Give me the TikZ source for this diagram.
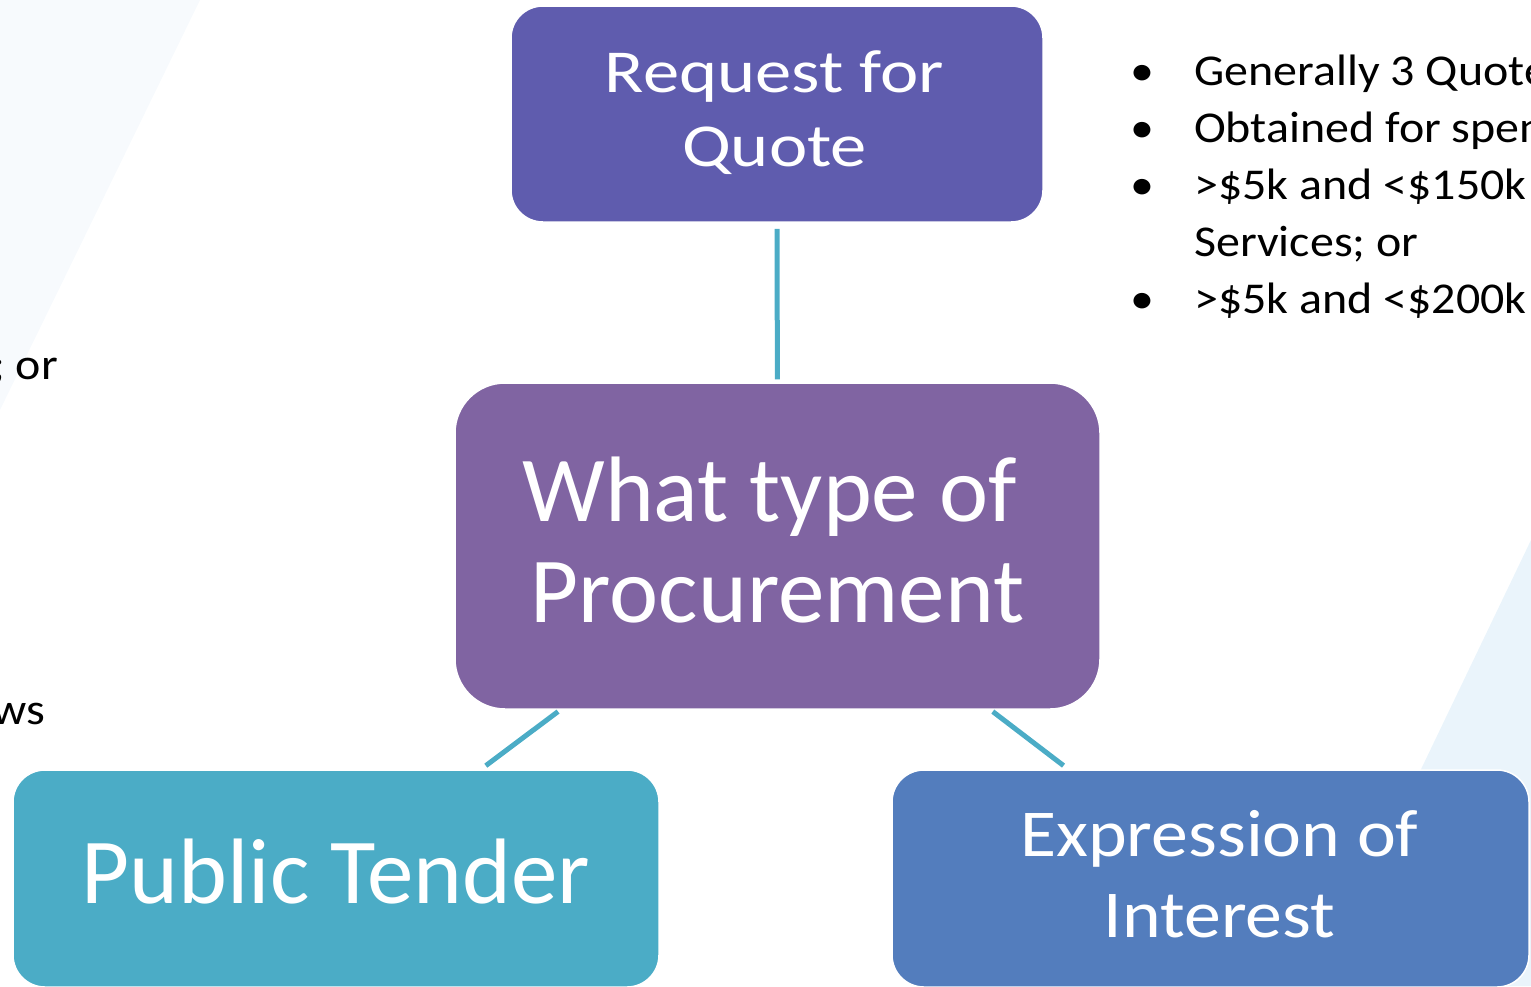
\documentclass[tikz,border=0pt]{standalone}
\usepackage{fontspec}
\setmainfont{Carlito}
\newfontfamily\bodyfont{Carlito}[FakeStretch=1.09]
\newfontfamily\rfqfont{Carlito}[FakeStretch=1.19]
\newfontfamily\eoifont{Carlito}[FakeStretch=1.10]
\definecolor{rfqblue}{RGB}{95,92,174}
\definecolor{procviolet}{RGB}{128,100,162}
\definecolor{tendercyan}{RGB}{75,172,198}
\definecolor{eoiblue}{RGB}{83,125,189}
\definecolor{linkcyan}{RGB}{75,172,198}
\definecolor{bgleft}{RGB}{247,250,253}
\definecolor{bgright}{RGB}{234,244,251}
\begin{document}
\begin{tikzpicture}
	[
	x=1pt, y=-1pt, font=\bodyfont\fontsize{44}{57}\selectfont,
	%Voreinstellung fuer Kaesten und Linien
	box/.style={draw=white, line width=1.5pt, text=white, align=center, inner sep=0pt},
	link/.style={draw=linkcyan, line width=5pt}
	]
	\useasboundingbox (0,0) rectangle (1531,986);
	%Hintergrund
	\fill[bgleft] (0,0) -- (200,0) -- (0,410) -- cycle;
	\fill[bgright] (1531,540) -- (1317,986) -- (1531,986) -- cycle;
	%Kaesten
	\node[box, fill=rfqblue, rounded corners=32pt, minimum width=532pt, minimum height=216pt,
		font=\rfqfont\fontsize{61}{74}\selectfont, text depth=11pt] (rfq) at (777,114) {Request for\kern5pt\\Quote\kern5pt};
	\node[box, fill=procviolet, rounded corners=50pt, minimum width=645pt, minimum height=326pt,
		font=\rmfamily\fontsize{93}{101}\selectfont, text depth=12pt] (proc) at (777.5,546) {What type of\kern16pt\\Procurement};
	\node[box, fill=tendercyan, rounded corners=32pt, minimum width=646pt, minimum height=217pt,
		font=\rmfamily\fontsize{93}{101}\selectfont, text depth=14pt] (pt) at (336,878.5) {Public Tender};
	\node[box, fill=eoiblue, rounded corners=32pt, minimum width=637pt, minimum height=217pt,
		font=\eoifont\fontsize{67}{81}\selectfont, text depth=9pt] (eoi) at (1210.5,878.5) {\kern18pt Expression of\\\kern18pt Interest};
	%Verbindungen
	\draw[link, shorten <=6pt, shorten >=3pt] (rfq) -- (proc);
	\draw[link, shorten <=3pt, shorten >=6pt] (proc) -- (pt);
	\draw[link, shorten <=3pt, shorten >=6pt] (proc) -- (eoi);
	%Aufzaehlung rechts oben
	\node[anchor=base west, inner sep=0pt] (dot1) at (1130,85) {\textbullet};
	\node[anchor=base west, inner sep=0pt] (dot2) at (1130,142) {\textbullet};
	\node[anchor=base west, inner sep=0pt] (dot3) at (1130,199) {\textbullet};
	\node[anchor=base west, inner sep=0pt] (dot5) at (1130,313) {\textbullet};
	\node[anchor=base west, inner sep=0pt] (item1) at (1194,85) {Generally 3 Quote};
	\node[anchor=base west, inner sep=0pt] (item2) at (1194,142) {Obtained for spen};
	\node[anchor=base west, inner sep=0pt] (item3) at (1194,199) {>\$5k and <\$150k};
	\node[anchor=base west, inner sep=0pt] (item4) at (1194,256) {Services; or};
	\node[anchor=base west, inner sep=0pt] (item5) at (1194,313) {>\$5k and <\$200k};
	%Reste links
	\node[anchor=base east, inner sep=0pt] (left1) at (58,379) {; or};
	\node[anchor=base east, inner sep=0pt] (left2) at (45,724) {ws};
\end{tikzpicture}
\end{document}
